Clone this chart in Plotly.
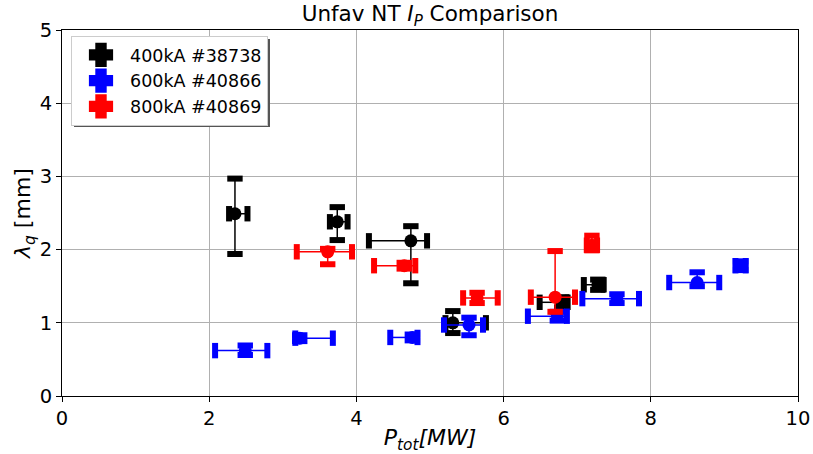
import plotly.graph_objects as go

# ---- data ----
series_names = ["400kA #38738", "600kA #40866", "800kA #40869"]
series_colors = ["black", "blue", "red"]

x_400 = [2.35, 3.74, 4.74, 5.31, 6.79, 7.28]
y_400 = [2.49, 2.38, 2.12, 1.00, 1.28, 1.52]
xm_400 = [0.08, 0.10, 0.57, 0.10, 0.30, 0.19]
xp_400 = [0.17, 0.14, 0.22, 0.45, 0.08, 0.08]
ym_400 = [0.55, 0.25, 0.58, 0.14, 0.07, 0.07]
yp_400 = [0.48, 0.20, 0.20, 0.16, 0.07, 0.07]

x_600 = [2.49, 3.23, 4.76, 5.53, 6.73, 7.54, 8.63, 9.22]
y_600 = [0.62, 0.79, 0.80, 0.97, 1.09, 1.33, 1.55, 1.78]
xm_600 = [0.41, 0.06, 0.30, 0.34, 0.40, 0.47, 0.38, 0.07]
xp_600 = [0.30, 0.45, 0.07, 0.19, 0.13, 0.30, 0.30, 0.07]
ym_600 = [0.06, 0.04, 0.04, 0.14, 0.06, 0.06, 0.05, 0.06]
yp_600 = [0.07, 0.04, 0.04, 0.10, 0.06, 0.06, 0.14, 0.06]

x_800 = [3.61, 4.65, 5.64, 6.70, 7.20]
y_800 = [1.97, 1.78, 1.34, 1.35, 2.06]
xm_800 = [0.42, 0.41, 0.19, 0.33, 0.07]
xp_800 = [0.33, 0.15, 0.28, 0.27, 0.07]
ym_800 = [0.17, 0.04, 0.07, 0.20, 0.07]
yp_800 = [0.04, 0.04, 0.07, 0.63, 0.13]

x_ticks = [0, 2, 4, 6, 8, 10]
y_ticks = [0, 1, 2, 3, 4, 5]

data = [
    (x_400, y_400, xm_400, xp_400, ym_400, yp_400),
    (x_600, y_600, xm_600, xp_600, ym_600, yp_600),
    (x_800, y_800, xm_800, xp_800, ym_800, yp_800),
]

FONT = "DejaVu Sans"
fig = go.Figure()

for (xs, ys, xm, xp, ym, yp), name, col in zip(data, series_names, series_colors):
    cx, cy, sym = [], [], []
    for x, y, a, b, c, d in zip(xs, ys, xm, xp, ym, yp):
        cx += [x - a, x + b, x, x]
        cy += [y, y, y - c, y + d]
        sym += ["line-ns", "line-ns", "line-ew", "line-ew"]
    # caps
    fig.add_trace(go.Scatter(
        x=cx, y=cy, mode="markers", showlegend=False, hoverinfo="skip",
        marker=dict(symbol=sym, size=11, color=col,
                    line=dict(color=col, width=6)),
    ))
    # error lines + markers
    fig.add_trace(go.Scatter(
        x=xs, y=ys, mode="markers", showlegend=False,
        marker=dict(symbol="circle", size=13, color=col, line=dict(width=0)),
        error_x=dict(type="data", symmetric=False, array=xp, arrayminus=xm,
                     width=0, thickness=1.5, color=col),
        error_y=dict(type="data", symmetric=False, array=yp, arrayminus=ym,
                     width=0, thickness=1.5, color=col),
    ))

# legend entries
for name, col in zip(series_names, series_colors):
    fig.add_trace(go.Scatter(
        x=[None], y=[None], mode="markers", name=name,
        marker=dict(symbol="cross", size=16, color=col,
                    line=dict(color=col, width=5)),
    ))

axis_common = dict(
    showline=True, mirror=True, linecolor="black", linewidth=1,
    ticks="outside", ticklen=5, tickcolor="black", tickwidth=1,
    showgrid=True, gridcolor="#b0b0b0", gridwidth=0.8,
    zeroline=False, automargin=False,
    tickfont=dict(family=FONT, size=19.5, color="black"),
)

fig.update_layout(
    width=813, height=454,
    margin=dict(l=62, r=15, t=30, b=58),
    paper_bgcolor="white", plot_bgcolor="white",
    title=dict(text="Unfav NT <i>I</i><sub><i>P</i></sub> Comparison",
               x=(430) / 813, xanchor="center", y=1 - 6 / 454, yanchor="top",
               font=dict(family=FONT, size=21.5, color="black")),
    xaxis=dict(range=[0, 10], tickvals=x_ticks,
               title=dict(text="<i>P<sub>tot</sub>[MW]</i>", standoff=4,
                          font=dict(family=FONT, size=22, color="black")),
               **axis_common),
    yaxis=dict(range=[0, 5], tickvals=y_ticks,
               title=dict(text="<i>λ<sub>q</sub></i> [mm]", standoff=2,
                          font=dict(family=FONT, size=22, color="black")),
               **axis_common),
    legend=dict(x=(71 - 62) / 736, y=(396 - 36) / 366, xanchor="left", yanchor="top",
                bgcolor="white", bordercolor="#cccccc", borderwidth=1,
                font=dict(family=FONT, size=17.5, color="black"),
                itemwidth=48, tracegroupgap=0),
    showlegend=True,
)

# legend shadow
fig.add_shape(type="rect", xref="paper", yref="paper",
              x0=(74 - 62) / 736, x1=(270 - 62) / 736,
              y0=(396 - 127) / 366, y1=(396 - 39) / 366,
              fillcolor="#555555", line=dict(width=0), layer="above")

fig.write_html("out.html")
